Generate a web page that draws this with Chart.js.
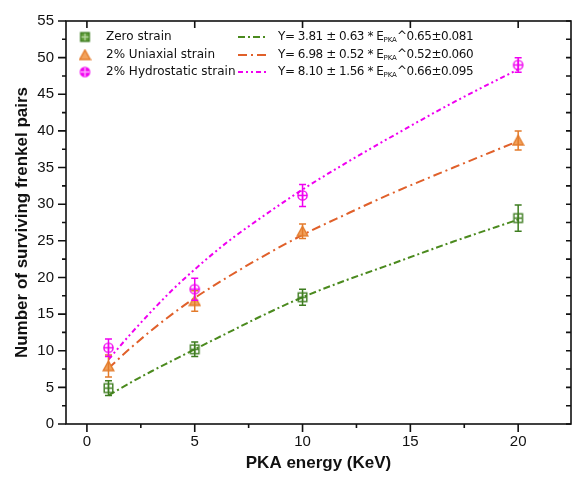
<!DOCTYPE html>
<html><head><meta charset="utf-8">
<script src="https://cdn.jsdelivr.net/npm/chart.js@4.4.1/dist/chart.umd.min.js"></script>
<style>html,body{margin:0;padding:0;background:#fff;}#wrap{width:578px;height:479px;}</style>
</head><body><div id="wrap"><canvas id="c" width="578" height="479"></canvas></div>
<script>
// ---- data ----
const energies = [1, 5, 10, 20];
const zeroStrain = [4.9, 10.2, 17.3, 28.1];
const zeroStrainErr = [1.0, 1.0, 1.1, 1.8];
const uniaxial = [7.9, 16.8, 26.3, 38.7];
const uniaxialErr = [1.5, 1.4, 1.0, 1.3];
const hydrostatic = [10.4, 18.4, 31.2, 49.0];
const hydrostaticErr = [1.2, 1.5, 1.5, 1.0];

const fitEnergies = [1, 2, 3, 4, 5, 6.5, 8, 10, 12, 14, 17, 20];
const zeroFit = [3.9, 5.6, 7.2, 8.7, 10.2, 12.4, 14.6, 17.3, 19.6, 21.7, 24.9, 27.9];
const uniaxialFit = [7.6, 10.3, 12.8, 15.1, 17.2, 20.0, 22.6, 25.8, 28.6, 31.3, 35.0, 38.6];
const hydrostaticFit = [8.8, 12.2, 15.4, 18.4, 21.1, 24.8, 28.0, 32.0, 35.6, 39.0, 43.9, 48.4];

const seriesLabels = ['Zero strain', '2% Uniaxial strain', '2% Hydrostatic strain'];
const fitMain = ['Y= 3.81 \u00b1 0.63 * E', 'Y= 6.98 \u00b1 0.52 * E', 'Y= 8.10 \u00b1 1.56 * E'];
const fitSub = 'PKA';
const fitExp = ['^0.65\u00b10.081', '^0.52\u00b10.060', '^0.66\u00b10.095'];

const xMajorTicks = [0, 5, 10, 15, 20];
const xMinorTicks = [2.5, 7.5, 12.5, 17.5];
const yMajorTicks = [0, 5, 10, 15, 20, 25, 30, 35, 40, 45, 50, 55];
const yMinorTicks = [2.5, 7.5, 12.5, 17.5, 22.5, 27.5, 32.5, 37.5, 42.5, 47.5, 52.5];
const xTitle = 'PKA energy (KeV)';
const yTitle = 'Number of surviving frenkel pairs';

// ---- styles ----
const GREEN = '#3e7d20', GREEN_LINE = '#4b8a1e';
const ORANGE = '#e37b2b', ORANGE_LINE = '#e0602a', ORANGE_FILL = '#f2a25c';
const MAGENTA = '#f000f0', MAGENTA_LINE = '#f000f0';
const dashes = [[7, 3, 2, 3], [9, 4, 2, 4], [5, 3, 2, 3, 2, 3]];

function makeMarker(kind, filled) {
  const c = document.createElement('canvas');
  c.width = 13; c.height = 13;
  const g = c.getContext('2d');
  g.lineWidth = 1.4;
  if (kind === 'square') {
    g.strokeStyle = GREEN;
    if (filled) { g.fillStyle = '#5c9a35'; g.fillRect(2.2, 2.2, 8.6, 8.6); }
    g.strokeRect(2.2, 2.2, 8.6, 8.6);
    if (filled) g.strokeStyle = '#b8d8a0';
    g.beginPath(); g.moveTo(6.5, 2.9); g.lineTo(6.5, 10.1); g.moveTo(2.9, 6.5); g.lineTo(10.1, 6.5); g.stroke();
  } else if (kind === 'triangle') {
    g.fillStyle = ORANGE_FILL; g.strokeStyle = ORANGE;
    g.beginPath(); g.moveTo(6.5, 1.5); g.lineTo(11.8, 11); g.lineTo(1.2, 11); g.closePath(); g.fill(); g.stroke();
  } else {
    g.strokeStyle = MAGENTA;
    if (filled) { g.fillStyle = MAGENTA; g.beginPath(); g.arc(6.5, 6.5, 4.6, 0, Math.PI * 2); g.fill(); }
    g.beginPath(); g.arc(6.5, 6.5, 4.6, 0, Math.PI * 2); g.stroke();
    if (filled) g.strokeStyle = '#ffb0ff';
    g.beginPath(); g.moveTo(6.5, 1.9); g.lineTo(6.5, 11.1); g.moveTo(1.9, 6.5); g.lineTo(11.1, 6.5); g.stroke();
  }
  return c;
}
const markers = [makeMarker('square'), makeMarker('triangle'), makeMarker('circle')];
const legendMarkers = [makeMarker('square', true), makeMarker('triangle', true), makeMarker('circle', true)];
const markerColors = [GREEN, ORANGE, MAGENTA];
const lineColors = [GREEN_LINE, ORANGE_LINE, MAGENTA_LINE];

const pts = (xs, ys) => xs.map((x, i) => ({x, y: ys[i]}));
const pointSets = [zeroStrain, uniaxial, hydrostatic];
const errSets = [zeroStrainErr, uniaxialErr, hydrostaticErr];
const fitSets = [zeroFit, uniaxialFit, hydrostaticFit];

const datasets = [];
fitSets.forEach((f, i) => datasets.push({
  type: 'line', data: pts(fitEnergies, f), borderColor: lineColors[i], borderWidth: 2,
  borderDash: dashes[i], pointRadius: 0, cubicInterpolationMode: 'monotone', fill: false, order: 2
}));
pointSets.forEach((p, i) => datasets.push({
  type: 'scatter', data: pts(energies, p), pointStyle: markers[i], pointRadius: 6,
  errors: errSets[i], errColor: markerColors[i], showLine: false, order: 1
}));

const errorBars = {
  id: 'errorBars',
  afterDatasetsDraw(chart) {
    const ctx = chart.ctx, ys = chart.scales.y;
    chart.data.datasets.forEach((ds, di) => {
      if (!ds.errors) return;
      const meta = chart.getDatasetMeta(di);
      ctx.save(); ctx.strokeStyle = ds.errColor; ctx.lineWidth = 1.5;
      meta.data.forEach((el, i) => {
        const v = ds.data[i].y, e = ds.errors[i];
        const t = ys.getPixelForValue(v + e), b = ys.getPixelForValue(v - e);
        ctx.beginPath();
        ctx.moveTo(el.x, t); ctx.lineTo(el.x, b);
        ctx.moveTo(el.x - 3.5, t); ctx.lineTo(el.x + 3.5, t);
        ctx.moveTo(el.x - 3.5, b); ctx.lineTo(el.x + 3.5, b);
        ctx.stroke();
      });
      ctx.restore();
    });
  }
};

const frame = {
  id: 'frame',
  afterDraw(chart) {
    const ctx = chart.ctx, a = chart.chartArea, xs = chart.scales.x, ys = chart.scales.y;
    ctx.save(); ctx.strokeStyle = '#111'; ctx.lineWidth = 1.6;
    ctx.strokeRect(a.left, a.top, a.right - a.left, a.bottom - a.top);
    ctx.beginPath();
    xMajorTicks.forEach(v => { const p = xs.getPixelForValue(v);
      ctx.moveTo(p, a.bottom); ctx.lineTo(p, a.bottom + 8);
      ctx.moveTo(p, a.top); ctx.lineTo(p, a.top + 7); });
    xMinorTicks.forEach(v => { const p = xs.getPixelForValue(v);
      ctx.moveTo(p, a.bottom); ctx.lineTo(p, a.bottom + 4); });
    yMajorTicks.forEach(v => { const p = ys.getPixelForValue(v);
      ctx.moveTo(a.left, p); ctx.lineTo(a.left - 8, p);
      ctx.moveTo(a.right, p); ctx.lineTo(a.right - 5, p); });
    yMinorTicks.forEach(v => { const p = ys.getPixelForValue(v);
      ctx.moveTo(a.left, p); ctx.lineTo(a.left - 4, p);
      ctx.moveTo(a.right, p); ctx.lineTo(a.right - 5, p); });
    ctx.stroke(); ctx.restore();

    // legend
    const rowsY = [37, 55, 72];
    ctx.save();
    ctx.textBaseline = 'middle'; ctx.fillStyle = '#111';
    rowsY.forEach((y, i) => {
      ctx.drawImage(legendMarkers[i], 85 - 6.5, y - 6.5);
      ctx.font = '12px "DejaVu Sans"';
      ctx.letterSpacing = '0px';
      ctx.fillText(seriesLabels[i], 106, y);
      ctx.strokeStyle = lineColors[i]; ctx.lineWidth = 2; ctx.setLineDash(dashes[i]);
      ctx.beginPath(); ctx.moveTo(238, y); ctx.lineTo(268, y); ctx.stroke(); ctx.setLineDash([]);
      ctx.letterSpacing = '-0.45px';
      let x = 278;
      ctx.fillText(fitMain[i], x, y); x += ctx.measureText(fitMain[i]).width;
      ctx.font = '7px "DejaVu Sans"';
      ctx.letterSpacing = '0px';
      ctx.fillText(fitSub, x, y + 3.5); x += ctx.measureText(fitSub).width;
      ctx.font = '12px "DejaVu Sans"';
      ctx.letterSpacing = '-0.45px';
      ctx.fillText(fitExp[i], x, y);
    });
    ctx.restore();
  }
};

new Chart(document.getElementById('c'), {
  data: { datasets },
  options: {
    responsive: false, animation: false, devicePixelRatio: 1,
    layout: { padding: { top: 15, right: 5, left: 0, bottom: 0 } },
    plugins: { legend: { display: false }, tooltip: { enabled: false } },
    scales: {
      x: {
        type: 'linear', min: -0.97, max: 22.45,
        afterBuildTicks: s => { s.ticks = xMajorTicks.map(v => ({value: v})); },
        afterFit: s => { s.height = 55; },
        grid: { display: false, drawTicks: false }, border: { display: false },
        ticks: { padding: 9, color: '#111', font: { family: 'Liberation Sans', size: 15 }, maxRotation: 0 },
        title: { display: true, text: xTitle, color: '#111', font: { family: 'Liberation Sans', size: 17, weight: 'bold' }, padding: { top: 0, bottom: 5 } }
      },
      y: {
        type: 'linear', min: 0, max: 55,
        afterBuildTicks: s => { s.ticks = yMajorTicks.map(v => ({value: v})); },
        afterFit: s => { s.width = 66; },
        grid: { display: false, drawTicks: false }, border: { display: false },
        ticks: { padding: 12, color: '#111', font: { family: 'Liberation Sans', size: 15 } },
        title: { display: true, text: yTitle, color: '#111', font: { family: 'Liberation Sans', size: 17, weight: 'bold' }, padding: { top: 12, bottom: 0 } }
      }
    }
  },
  plugins: [errorBars, frame]
});
</script></body></html>
